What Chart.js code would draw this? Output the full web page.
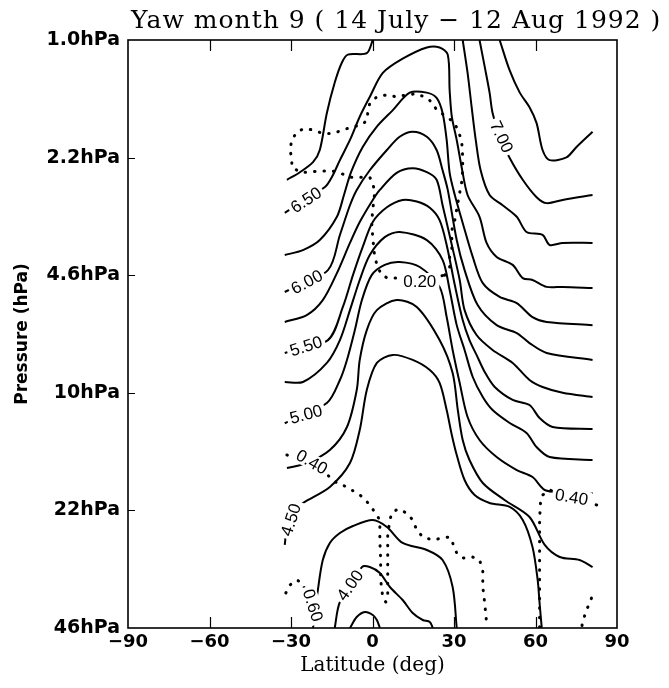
<!DOCTYPE html>
<html>
<head>
<meta charset="utf-8">
<title>Yaw month 9</title>
<script src="https://cdn.jsdelivr.net/npm/chart.js@4.4.1/dist/chart.umd.min.js"></script>
<style>
    html, body { margin: 0; padding: 0; background: #fff; }
    #wrap { width: 669px; height: 688px; }
</style>
</head>
<body>
<div id="wrap"><canvas id="yawChart" width="669" height="688"></canvas></div>
<script>
// Axis ticks
const latTicks = [-90, -60, -30, 0, 30, 60, 90];
const pressureTicks = [1.0, 2.154, 4.642, 10.0, 21.54, 46.42];
const pressureLabels = ['1.0hPa', '2.2hPa', '4.6hPa', '10hPa', '22hPa', '46hPa'];

// Solid contours, each point is [latitude (deg), pressure (hPa)]
const c725 = [[46.8,1.0],[50.5,1.22],[54.2,1.41],[57.8,1.55],[60.4,1.72],[62.6,2.05],[65.2,2.19],[71.4,2.15],[75.1,2.01],[81.0,1.82]];
const c700 = [[39.4,1.0],[41.3,1.19],[43.1,1.41],[44.2,1.61],[46.8,1.88],[50.5,2.16],[55.3,2.49],[60.4,2.79],[64.1,2.90],[70.0,2.84],[81.0,2.75]];
const c675a = [[-31.5,2.49],[-26.7,2.37],[-21.9,2.22],[-19.4,2.05],[-16.8,1.61],[-13.9,1.32],[-11.3,1.16],[-9.1,1.10],[-2.1,1.09],[0.1,1.0]];
const c675b = [[33.2,1.0],[35.0,1.24],[36.5,1.55],[38.0,1.92],[39.8,2.34],[43.1,2.75],[47.9,2.94],[53.1,3.17],[56.7,3.50],[62.6,3.57],[65.2,3.81],[70.0,3.76],[81.0,3.76]];
const c650 = [[-32.3,3.09],[-17.5,2.61],[-15.0,2.45],[-12.0,2.19],[-8.3,1.92],[-4.7,1.65],[-1.0,1.45],[3.8,1.24],[11.1,1.13],[20.0,1.05],[24.7,1.05],[27.7,1.10],[28.4,1.39],[29.2,1.65],[31.0,1.92],[32.8,2.29],[35.0,2.75],[39.4,3.17],[42.0,3.76],[45.7,4.12],[51.6,4.34],[55.3,4.73],[58.9,4.79],[64.1,5.01],[70.0,5.01],[81.0,5.05]];
const c625 = [[-32.3,4.07],[-25.6,3.94],[-19.4,3.69],[-13.1,3.17],[-10.5,2.75],[-7.9,2.37],[-3.6,2.01],[1.6,1.76],[7.5,1.58],[13.7,1.41],[20.0,1.41],[23.6,1.46],[25.8,1.61],[27.3,1.92],[28.4,2.38],[30.3,2.75],[33.2,3.30],[36.9,4.12],[40.6,4.89],[46.8,5.35],[53.1,5.57],[58.9,6.10],[64.1,6.30],[81.0,6.43]];
const c600 = [[-32.3,5.18],[-16.4,4.49],[-12.0,3.57],[-8.3,2.94],[-5.8,2.66],[-1.0,2.34],[5.3,2.05],[10.0,1.88],[14.8,1.82],[20.0,1.88],[23.6,2.05],[25.8,2.34],[27.7,2.66],[31.0,3.69],[33.9,4.49],[38.7,5.64],[45.7,6.43],[53.1,6.77],[57.8,7.23],[64.1,7.71],[81.0,8.07]];
const c575 = [[-32.3,6.30],[-24.2,6.02],[-18.3,5.46],[-13.1,4.58],[-8.3,3.76],[-4.7,3.28],[0.1,2.84],[2.7,2.66],[8.9,2.38],[14.8,2.31],[20.0,2.37],[23.6,2.49],[25.8,2.94],[29.2,3.81],[32.1,4.79],[33.9,5.83],[38.3,6.86],[44.2,7.56],[51.6,8.23],[57.8,9.20],[62.6,9.63],[70.0,10.0],[81.0,10.28]];
const c550 = [[-32.3,7.71],[-16.4,7.09],[-10.9,5.71],[-7.2,4.64],[-3.6,3.86],[0.1,3.28],[5.3,2.98],[11.1,2.84],[16.3,2.87],[21.1,2.99],[24.7,3.24],[27.3,3.81],[30.3,4.95],[33.2,6.22],[35.7,7.09],[38.3,7.81],[41.3,8.73],[45.0,9.63],[51.6,10.48],[57.8,10.83],[61.5,11.79],[66.3,12.50],[81.0,12.67]];
const c525 = [[-32.3,9.32],[-25.6,9.32],[-16.8,8.23],[-12.0,7.09],[-8.3,5.83],[-4.7,4.79],[-1.0,4.07],[4.5,3.62],[10.0,3.50],[20.0,3.69],[25.8,4.20],[28.4,5.11],[31.0,6.43],[33.9,7.56],[36.9,9.02],[40.6,10.28],[44.2,11.19],[50.5,12.18],[56.7,13.00],[60.4,14.25],[65.2,15.21],[81.0,15.51]];
const c500 = [[-32.3,12.2],[-16.8,10.69],[-12.0,9.20],[-9.4,8.07],[-6.5,6.64],[-3.9,5.46],[-0.3,4.64],[4.5,4.34],[10.0,4.26],[17.4,4.40],[24.7,5.01],[27.3,6.10],[29.5,7.56],[32.1,9.38],[35.0,11.71],[39.4,13.61],[45.7,15.21],[53.1,16.56],[58.9,17.33],[63.4,18.86],[70.0,19.11],[81.0,19.23]];
const c475 = [[-31.5,16.34],[-24.2,15.82],[-15.7,14.53],[-9.4,12.50],[-5.8,9.82],[-4.7,8.07],[-2.1,6.64],[1.6,5.83],[8.9,5.46],[16.3,5.71],[24.7,7.09],[29.5,8.79],[31.4,11.19],[33.2,13.61],[35.7,15.51],[40.6,18.02],[48.6,20.13],[57.8,22.49],[63.4,27.00],[68.9,29.21],[76.2,29.79],[81.0,31.18]];
const c450 = [[-32.3,27.0],[-31.5,24.2],[-28.6,21.5],[-25.6,20.53],[-15.7,18.49],[-8.3,15.82],[-4.7,12.75],[-2.1,9.82],[1.6,8.23],[7.5,7.81],[14.8,8.07],[21.1,8.62],[24.7,9.38],[27.3,11.19],[29.2,13.17],[31.0,15.01],[33.9,17.67],[37.6,19.49],[43.1,20.53],[50.5,21.07],[55.3,22.94],[58.9,27.36],[60.8,33.93],[61.5,39.43],[62.3,46.4]];
const c425 = [[-21.9,46.4],[-20.1,36.2],[-18.3,29.79],[-15.7,26.65],[-12.0,24.97],[-7.2,23.85],[0.1,22.94],[5.3,24.01],[11.1,26.65],[20.0,27.9],[25.8,29.79],[29.5,35.52],[31.0,46.4]];
const c400 = [[-13.9,46.4],[-12.0,39.18],[-3.9,31.18],[-1.0,31.18],[2.7,32.42],[6.4,35.52],[11.1,38.67],[14.8,42.10],[18.5,44.06],[21.1,44.64],[22.2,46.4]];
const c375 = [[-8.3,46.4],[-5.8,43.21],[-2.8,41.82],[0.1,42.65],[1.6,44.06],[2.7,46.4]];

// Dotted contours (second field), same [latitude, pressure] points
const d020 = [[26.6,4.64],[28.4,4.40],[28.4,4.12],[29.2,3.89],[29.2,3.69],[29.2,3.46],[30.3,3.24],[31.4,2.90],[32.1,2.71],[32.8,2.54],[33.2,2.34],[33.2,2.15],[32.8,1.92],[30.3,1.72],[27.3,1.65],[23.6,1.58],[22.2,1.51],[20.0,1.46],[16.3,1.42],[12.6,1.43],[8.9,1.45],[5.3,1.43],[1.6,1.45],[-1.0,1.51],[-1.7,1.60],[-2.1,1.69],[-3.9,1.74],[-7.2,1.76],[-10.9,1.80],[-14.6,1.84],[-18.3,1.84],[-21.9,1.80],[-24.9,1.78],[-27.8,1.82],[-29.7,1.92],[-30.4,2.05],[-29.7,2.16],[-29.7,2.29],[-26.7,2.37],[-23.1,2.37],[-19.4,2.35],[-15.0,2.35],[-12.0,2.38],[-8.3,2.45],[-4.7,2.45],[-1.0,2.45],[0.1,2.54],[0.8,2.71],[0.1,3.03],[-0.3,3.28],[0.1,3.64],[0.8,4.12],[1.9,4.40],[3.4,4.64],[5.6,4.73],[9.3,4.73],[17.4,4.80],[26.6,4.64]];
const d040a = [[-31.5,15.01],[-22.3,15.7],[-15.7,17.33],[-13.1,18.02],[-9.4,18.49],[-6.5,19.11],[-3.6,19.74],[-1.0,20.80],[0.8,21.77],[2.7,22.94],[2.7,26.14],[3.0,29.79],[3.0,33.93],[3.8,38.16],[4.9,39.18],[5.6,37.42],[5.6,32.85],[5.6,28.83],[5.6,25.30],[6.4,22.94],[7.1,21.92],[9.3,21.35],[12.6,21.92],[14.8,22.94],[16.3,24.49],[18.5,25.63],[22.2,26.14],[25.8,25.80],[28.4,25.63],[29.5,26.65],[31.0,28.46],[33.2,29.40],[36.9,29.21],[39.4,29.79],[40.6,31.79],[40.6,35.52],[41.3,39.43],[42.0,44.93],[42.0,46.4]];
const d040b = [[82.5,20.8],[73.3,19.74],[65.2,18.86],[62.6,19.5],[61.9,20.13],[61.5,22.94],[61.5,26.14],[61.5,29.79],[61.5,33.93],[61.5,38.67],[61.5,44.06],[61.5,46.4]];
const d040c = [[80.6,38.2],[78.8,41.3],[77.3,44.64],[77.0,46.4]];
const d060 = [[-31.9,36.94],[-30.4,35.06],[-27.8,33.93],[-26.0,34.60],[-21.9,40.0],[-20.5,44.64]];

const solidContours = [c725, c700, c675a, c675b, c650, c625, c600, c575, c550, c525, c500, c475, c450, c425, c400, c375];
const dottedContours = [d020, d040a, d040b, d040c, d060];

// In-line contour labels: text, position on the axes, rotation in degrees
const contourLabels = [
    { text: '7.00', lat: 47.5, p: 1.88, angle: 65 },
    { text: '6.50', lat: -24.5, p: 2.84, angle: -33 },
    { text: '6.00', lat: -24.2, p: 4.85, angle: -28 },
    { text: '5.50', lat: -24.5, p: 7.37, angle: -18 },
    { text: '5.00', lat: -24.5, p: 11.5, angle: -15 },
    { text: '4.50', lat: -30.1, p: 22.9, angle: -72 },
    { text: '4.00', lat: -8.3, p: 35.1, angle: -55 },
    { text: '0.20', lat: 17.4, p: 4.82, angle: 0 },
    { text: '0.40', lat: -22.3, p: 15.7, angle: 30 },
    { text: '0.40', lat: 73.3, p: 19.74, angle: 10 },
    { text: '0.60', lat: -21.9, p: 40.0, angle: 72 }
];

const toPoints = (line) => line.map(([lat, p]) => ({ x: lat, y: p }));

function buildDatasets() {
    const solid = solidContours.map(line => ({
        data: toPoints(line),
        showLine: true,
        borderColor: '#000',
        borderWidth: 2,
        pointRadius: 0,
        tension: 0.3,
        fill: false
    }));
    const dotted = dottedContours.map(line => ({
        data: toPoints(line),
        showLine: true,
        borderColor: '#000',
        borderWidth: 3,
        borderDash: [0.5, 9],
        borderCapStyle: 'round',
        pointRadius: 0,
        tension: 0,
        fill: false
    }));
    return solid.concat(dotted);
}

// Contour value labels, drawn over a white patch so the line looks broken
const labelPlugin = {
    id: 'contourLabels',
    afterDatasetsDraw(chart) {
        const { ctx, scales } = chart;
        ctx.save();
        ctx.font = '17px "Liberation Sans", Arial, sans-serif';
        ctx.textAlign = 'center';
        ctx.textBaseline = 'middle';
        contourLabels.forEach(lb => {
            const px = scales.x.getPixelForValue(lb.lat);
            const py = scales.y.getPixelForValue(lb.p);
            const w = ctx.measureText(lb.text).width;
            ctx.save();
            ctx.translate(px, py);
            ctx.rotate(lb.angle * Math.PI / 180);
            ctx.fillStyle = '#fff';
            ctx.fillRect(-w / 2 - 3, -8, w + 6, 16);
            ctx.fillStyle = '#000';
            ctx.fillText(lb.text, 0, 1);
            ctx.restore();
        });
        ctx.restore();
    }
};

// Plot frame with inward tick marks, plus the title
const framePlugin = {
    id: 'frame',
    afterDraw(chart) {
        const { ctx, chartArea: a, scales } = chart;
        ctx.save();
        ctx.strokeStyle = '#000';
        ctx.lineWidth = 1.6;
        ctx.strokeRect(a.left, a.top, a.right - a.left, a.bottom - a.top);

        ctx.lineWidth = 1.2;
        ctx.beginPath();
        latTicks.slice(1, -1).forEach(v => {
            const x = Math.round(scales.x.getPixelForValue(v)) + 0.5;
            ctx.moveTo(x, a.bottom);
            ctx.lineTo(x, a.bottom - 11);
            ctx.moveTo(x, a.top);
            ctx.lineTo(x, a.top + 11);
        });
        pressureTicks.slice(1, -1).forEach(v => {
            const y = Math.round(scales.y.getPixelForValue(v)) + 0.5;
            ctx.moveTo(a.left, y);
            ctx.lineTo(a.left + 7, y);
        });
        ctx.stroke();

        ctx.fillStyle = '#000';
        ctx.font = '25px "DejaVu Serif", serif';
        ctx.letterSpacing = '1px';
        ctx.textAlign = 'left';
        ctx.textBaseline = 'alphabetic';
        ctx.fillText('Yaw month 9 ( 14 July \u2212 12 Aug 1992 )', 131, 28);
        ctx.restore();
    }
};

class YawChart {
    constructor(canvasId) {
        this.canvas = document.getElementById(canvasId);
        this.init();
    }

    init() {
        this.chart = new Chart(this.canvas, {
            type: 'scatter',
            data: { datasets: buildDatasets() },
            options: {
                responsive: false,
                animation: false,
                devicePixelRatio: 1,
                layout: { padding: { top: 40, right: 52, left: 0, bottom: 0 } },
                plugins: {
                    legend: { display: false },
                    tooltip: { enabled: false }
                },
                scales: {
                    x: {
                        type: 'linear',
                        min: -90,
                        max: 90,
                        afterBuildTicks: axis => { axis.ticks = latTicks.map(v => ({ value: v })); },
                        afterFit: axis => { axis.height = 60; },
                        grid: { display: false, drawTicks: false },
                        border: { display: false },
                        ticks: {
                            padding: 4,
                            color: '#000',
                            font: { family: '"DejaVu Sans", sans-serif', size: 18, weight: 'bold' },
                            callback: v => (v < 0 ? '\u2212' + (-v) : String(v))
                        },
                        title: {
                            display: true,
                            text: 'Latitude (deg)',
                            color: '#000',
                            font: { family: '"DejaVu Serif", serif', size: 20 },
                            padding: { top: 0, bottom: 10 }
                        }
                    },
                    y: {
                        type: 'logarithmic',
                        reverse: true,
                        min: 1,
                        max: 46.42,
                        afterBuildTicks: axis => { axis.ticks = pressureTicks.map(v => ({ value: v })); },
                        afterFit: axis => { axis.width = 128; },
                        grid: { display: false, drawTicks: false },
                        border: { display: false },
                        ticks: {
                            padding: 8,
                            color: '#000',
                            font: { family: '"DejaVu Sans", sans-serif', size: 19, weight: 'bold' },
                            callback: (v, i) => pressureLabels[i]
                        },
                        title: {
                            display: true,
                            text: 'Pressure (hPa)',
                            color: '#000',
                            font: { family: '"DejaVu Sans", sans-serif', size: 17, weight: 'bold' },
                            padding: { top: 12, bottom: 0 }
                        }
                    }
                }
            },
            plugins: [labelPlugin, framePlugin]
        });
    }
}

document.addEventListener('DOMContentLoaded', () => {
    new YawChart('yawChart');
});
</script>
</body>
</html>
